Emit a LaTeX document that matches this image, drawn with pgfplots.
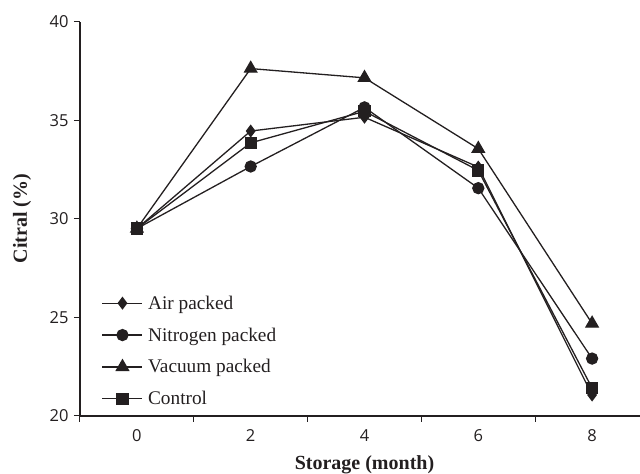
\documentclass[border=0pt]{standalone}
\usepackage{fontspec}
\setmainfont{Liberation Serif}
\newfontfamily\ticksans{Open Sans}
\usepackage{pgfplots}
\pgfplotsset{compat=1.18}
\usetikzlibrary{calc}
\definecolor{ink}{HTML}{231F20}

\pgfplotstableread{
x air nitrogen vacuum control
0 29.5 29.5 29.5 29.5
2 34.45 32.65 37.62 33.85
4 35.15 35.65 37.15 35.45
6 32.62 31.55 33.55 32.45
8 21.05 22.9 24.68 21.4
}\datatable

\begin{document}
\begin{tikzpicture}
\begin{axis}[
  scale only axis,
  width=569bp, height=394bp,
  xmin=-1, xmax=9, ymin=20, ymax=40,
  axis x line=bottom, axis y line=left,
  axis line style={-, line width=1.6bp, color=ink},
  xtick={0,2,4,6,8},
  minor xtick={-1,1,3,5,7,9},
  ytick={20,25,30,35,40},
  tick align=outside,
  major tick length=6bp, minor tick length=6bp,
  tick style={line width=1bp, color=ink},
  major x tick style={draw=none},
  /pgf/number format/assume math mode=true,
  ticklabel style={font=\ticksans\fontsize{16.5bp}{18bp}\selectfont, color=ink},
  yticklabel style={xshift=-2bp},
  xticklabel style={yshift=-4bp},
  xlabel={\textbf{Storage (month)}},
  ylabel={\textbf{Citral (\%)}},
  every axis x label/.style={at={(rel axis cs:0.5,0)}, anchor=base, yshift=-54bp,
    font=\fontsize{20bp}{22bp}\selectfont, color=ink},
  every axis y label/.style={at={(rel axis cs:0,0.5)}, xshift=-58bp, anchor=center, rotate=90,
    font=\fontsize{20bp}{22bp}\selectfont, color=ink},
  legend style={draw=none, fill=none, at={(axis cs:-0.62,26.2)}, anchor=north west,
    font=\fontsize{19.3bp}{20bp}\selectfont, text=ink, inner sep=0pt, row sep=13bp,
    nodes={inner xsep=5bp}},
  legend cell align=left,
  legend image code/.code={\draw[mark repeat=2,mark phase=2,#1] plot coordinates {(0bp,0bp)(20bp,0bp)(40bp,0bp)};},
  every axis plot/.append style={color=ink, line width=1.3bp, mark options={solid, fill=ink}},
  clip=false,
]
\addplot[mark=diamond*, mark size=5.5bp] table[x=x,y=air] {\datatable};
\addlegendentry{Air packed}
\addplot[mark=*, mark size=5.5bp] table[x=x,y=nitrogen] {\datatable};
\addlegendentry{Nitrogen packed}
\addplot[mark=triangle*, mark size=7bp] table[x=x,y=vacuum] {\datatable};
\addlegendentry{Vacuum packed}
\addplot[mark=square*, mark size=5.5bp] table[x=x,y=control] {\datatable};
\addlegendentry{Control}
\coordinate (sw) at (rel axis cs:0,0);
\end{axis}
\pgfresetboundingbox
\useasboundingbox ($(sw)+(-80bp,-58.3bp)$) rectangle ++(640bp,474bp);
\end{tikzpicture}
\end{document}
